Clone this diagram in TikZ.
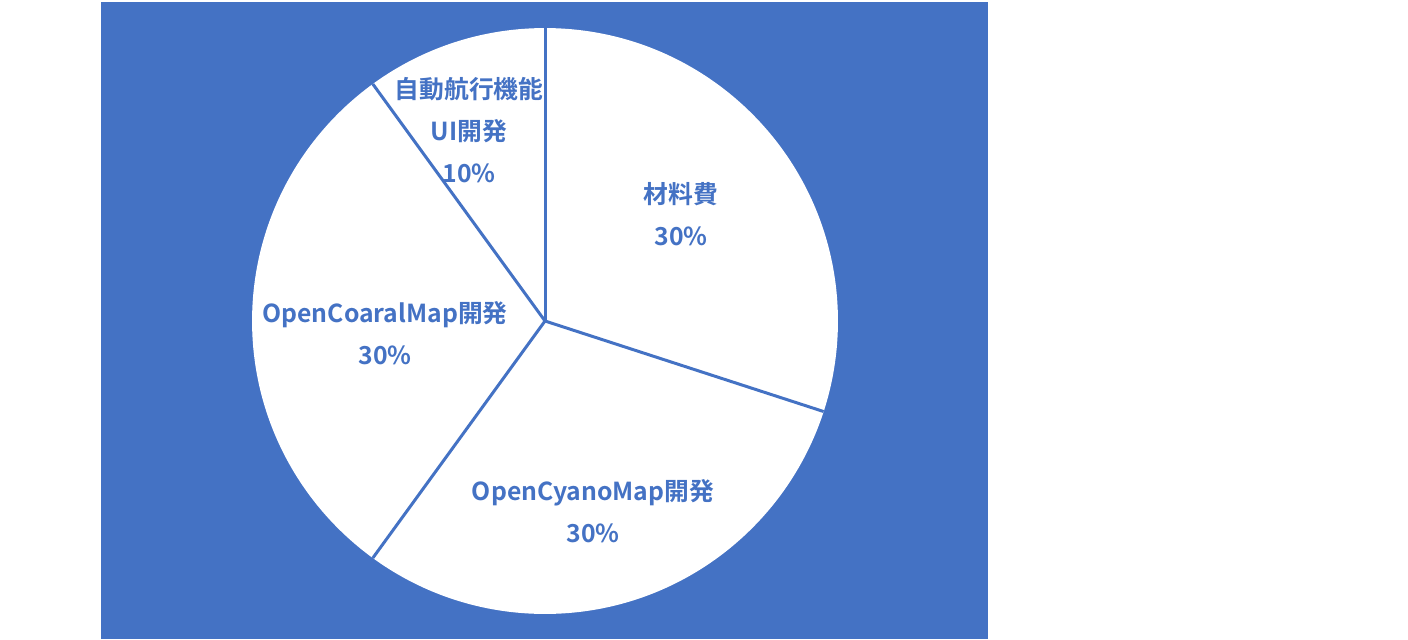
\documentclass[tikz,border=0pt]{standalone}
\usepackage{fontspec}
\newfontfamily\jpfont{Noto Sans CJK JP}[BoldFont={Noto Sans CJK JP Bold}]
\usepackage{tikz}
\definecolor{chartblue}{HTML}{4472C4}
\tikzset{
  slicelabel/.style={text=chartblue, align=center, font=\jpfont\bfseries\fontsize{14.1}{24}\selectfont},
  sliceedge/.style={chartblue, line width=1.7pt}
}

\begin{document}
\begin{tikzpicture}[x=0.02cm, y=-0.02cm]
      \useasboundingbox (0,0) rectangle (1408,639);
      \fill[chartblue] (101,2) rectangle (988,639);

      % pie
      \coordinate (c) at (545,321);
      \fill[white] (c) circle[radius=5.86cm];

      \path (c) ++(90:5.86cm) coordinate (b1);
      \path (c) ++(-18:5.86cm) coordinate (b2);
      \path (c) ++(-126:5.86cm) coordinate (b3);
      \path (c) ++(126:5.86cm) coordinate (b4);
      \draw[sliceedge] (c) -- (b1);
      \draw[sliceedge] (c) -- (b2);
      \draw[sliceedge] (c) -- (b3);
      \draw[sliceedge] (c) -- (b4);

      \node[slicelabel] (material) at (681,214) {材料費\\30\%};
      \node[slicelabel] (cyano) at (593,511) {OpenCyanoMap開発\\30\%};
      \node[slicelabel] (coaral) at (385,333) {OpenCoaralMap開発\\30\%};
      \node[slicelabel] (autonav) at (469,130) {自動航行機能\\UI開発\\10\%};
\end{tikzpicture}
\end{document}
